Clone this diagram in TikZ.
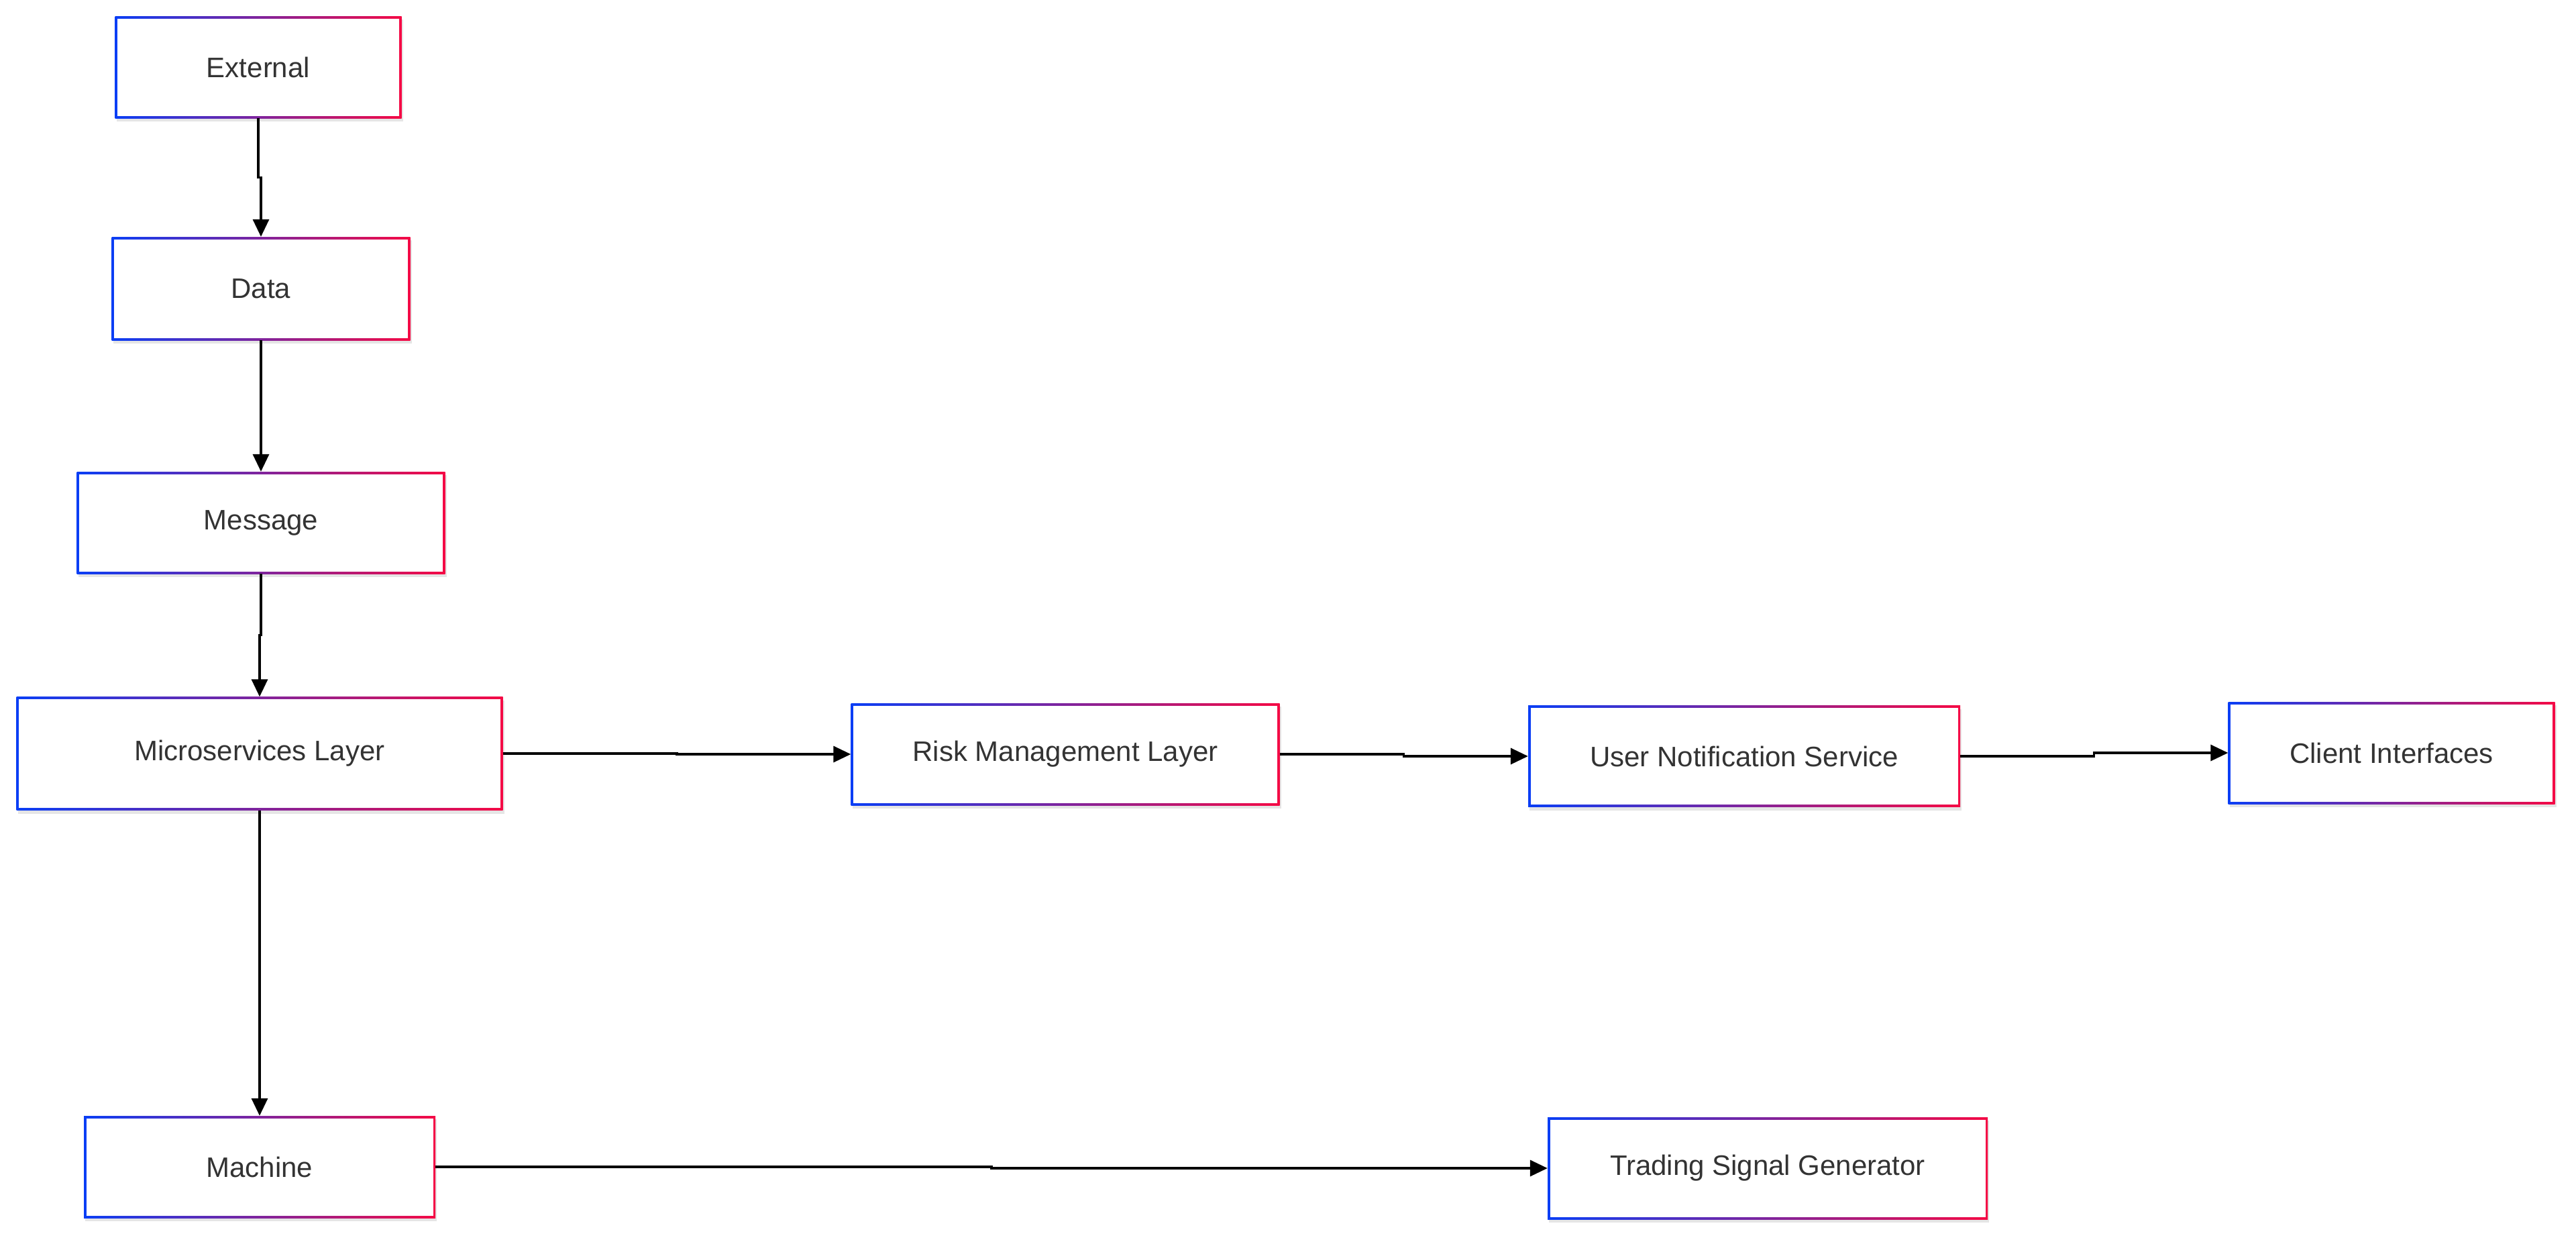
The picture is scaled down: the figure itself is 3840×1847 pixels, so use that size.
\documentclass[tikz,border=0pt]{standalone}
\usepackage{fontspec}
\setmainfont{Liberation Sans}
\usetikzlibrary{arrows.meta,shadows,calc}
\definecolor{gblue}{HTML}{0A3EF5}
\definecolor{gred}{HTML}{F50A45}
\definecolor{txt}{HTML}{333333}
\tikzset{
  gbox/.style={rectangle, inner sep=0pt, fill=white, text=txt,
    font=\fontsize{42}{48}\selectfont,
    drop shadow={shadow xshift=2pt, shadow yshift=-5pt, opacity=0.10, fill=black},
    path picture={
      \shade[left color=gblue, right color=gred]
        (path picture bounding box.south west) rectangle (path picture bounding box.north east);
      \fill[white] ([shift={(3.5pt,3.5pt)}]path picture bounding box.south west)
        rectangle ([shift={(-3.5pt,-3.5pt)}]path picture bounding box.north east);
    }},
  conn/.style={draw=black, line width=3.4pt, -{Triangle[length=26pt,width=24pt]}}
}
\begin{document}
\begin{tikzpicture}[x=1pt,y=-1pt]
\useasboundingbox (0,0) rectangle (3840,1847);
\node[gbox, minimum width=427pt, minimum height=152pt] (ext) at (385,100) {External};
\node[gbox, minimum width=445pt, minimum height=154pt] (data) at (389,430) {Data};
\node[gbox, minimum width=549pt, minimum height=152pt] (msg) at (389,779) {Message};
\node[gbox, minimum width=725pt, minimum height=169pt] (micro) at (387,1123) {Microservices Layer};
\node[gbox, minimum width=639pt, minimum height=152pt] (risk) at (1588,1124) {Risk Management Layer};
\node[gbox, minimum width=644pt, minimum height=151pt] (user) at (2600,1127) {User Notification Service};
\node[gbox, minimum width=487pt, minimum height=152pt] (client) at (3565,1122) {Client Interfaces};
\node[gbox, minimum width=524pt, minimum height=152pt] (mach) at (387,1739) {Machine};
\node[gbox, minimum width=656pt, minimum height=152pt] (trade) at (2635,1741) {Trading Signal Generator};
\draw[conn] (ext.south) |- ($(ext.south)!.5!(data.north)$) -| (data.north);
\draw[conn] (data.south) |- ($(data.south)!.5!(msg.north)$) -| (msg.north);
\draw[conn] (msg.south) |- ($(msg.south)!.5!(micro.north)$) -| (micro.north);
\draw[conn] (micro.east) -| ($(micro.east)!.5!(risk.west)$) |- (risk.west);
\draw[conn] (risk.east) -| ($(risk.east)!.5!(user.west)$) |- (user.west);
\draw[conn] (user.east) -| ($(user.east)!.5!(client.west)$) |- (client.west);
\draw[conn] (micro.south) |- ($(micro.south)!.5!(mach.north)$) -| (mach.north);
\draw[conn] (mach.east) -| ($(mach.east)!.5!(trade.west)$) |- (trade.west);
\end{tikzpicture}
\end{document}
